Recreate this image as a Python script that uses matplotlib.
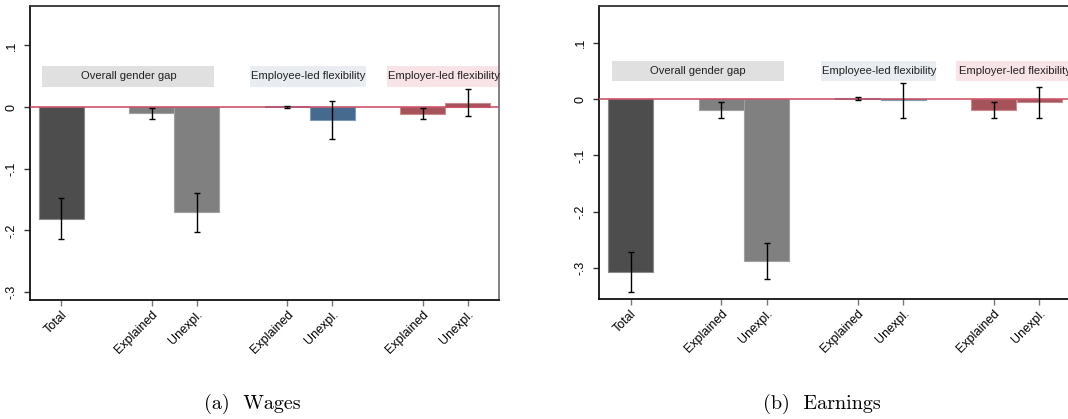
import matplotlib
matplotlib.use("Agg")
import matplotlib.pyplot as plt
from matplotlib.patches import Rectangle

# Oaxaca-style decomposition of the gender gap
positions = [1, 3, 4, 6, 7, 9, 10]
tick_labels = ["Total", "Explained", "Unexpl.", "Explained", "Unexpl.", "Explained", "Unexpl."]

wage_est = [-0.181, -0.010, -0.171, 0.001, -0.021, -0.011, 0.006]
wage_lo = [-0.214, -0.019, -0.202, -0.001, -0.052, -0.019, -0.015]
wage_hi = [-0.148, -0.001, -0.140, 0.002, 0.010, -0.002, 0.029]

earn_est = [-0.307, -0.020, -0.287, 0.002, -0.002, -0.020, -0.006]
earn_lo = [-0.342, -0.034, -0.319, -0.002, -0.034, -0.034, -0.034]
earn_hi = [-0.272, -0.005, -0.256, 0.004, 0.028, -0.006, 0.021]

group_titles = ["Overall gender gap", "Employee-led flexibility", "Employer-led flexibility"]
panel_captions = ["(a)  Wages", "(b)  Earnings"]

y_ticks = [0.1, 0.0, -0.1, -0.2, -0.3]
y_tick_labels = [".1", "0", "-.1", "-.2", "-.3"]

bar_colors = ["#4d4d4d", "#808080", "#808080", "#46698e", "#46698e", "#a5525a", "#a5525a"]
edge_colors = ["#8a8a8a", "#a0a0a0", "#a0a0a0", "#7d9bb8", "#7d9bb8", "#c98a90", "#c98a90"]
box_colors = ["#e0e0e0", "#e9edf1", "#f8e3e7"]

plt.rcParams["font.family"] = ["Liberation Sans", "DejaVu Sans"]

fig = plt.figure(figsize=(10.68, 4.19), dpi=100)

panels = [
    dict(rect=[0.0281, 0.284, 0.4391, 0.7017], est=wage_est, lo=wage_lo, hi=wage_hi,
         ylim=(-0.313, 0.164), boxes=[(0.58, 4.38), (5.18, 7.75), (8.21, 10.75)],
         cap_x=0.2365),
    dict(rect=[0.5611, 0.2857, 0.4414, 0.700], est=earn_est, lo=earn_lo, hi=earn_hi,
         ylim=(-0.355, 0.165), boxes=[(0.60, 4.37), (5.19, 7.72), (8.17, 11.0)],
         cap_x=0.770),
]

for i, p in enumerate(panels):
    ax = fig.add_axes(p["rect"])
    ax.set_xlim(0.31, 10.69)
    ax.set_ylim(*p["ylim"])

    ax.bar(positions, p["est"], width=0.99, color=bar_colors,
           edgecolor=edge_colors, linewidth=0.8, zorder=2)
    err_lo = [e - l for e, l in zip(p["est"], p["lo"])]
    err_hi = [h - e for e, h in zip(p["est"], p["hi"])]
    ax.errorbar(positions, p["est"], yerr=[err_lo, err_hi], fmt="none",
                ecolor="black", elinewidth=1.0, capsize=2.3, capthick=1.0, zorder=4)

    ax.axhline(0, color="#c8485f", linewidth=1.1, zorder=3)

    # group header boxes
    for (x0, x1), title, bc in zip(p["boxes"], group_titles, box_colors):
        ax.add_patch(Rectangle((x0, 0.0325), x1 - x0, 0.0345, facecolor=bc,
                               edgecolor="none", zorder=1))
    centers = [2.49, 6.47, 9.47]
    for cx, title in zip(centers, group_titles):
        ax.text(cx, 0.0497, title, ha="center", va="center", fontsize=8.1,
                color="#222222", zorder=5)

    ax.set_xticks(positions)
    ax.set_xticklabels(tick_labels, rotation=45, ha="right", va="top",
                       rotation_mode="anchor", fontsize=9)
    ax.set_yticks(y_ticks)
    ax.set_yticklabels(y_tick_labels, rotation=90, va="center", fontsize=9)

    ax.tick_params(axis="x", length=4, width=1.0, color="#777777", pad=2)
    ax.tick_params(axis="y", length=4, width=1.0, color="#333333", pad=5)

    ax.spines["left"].set_color("#111111")
    ax.spines["bottom"].set_color("#111111")
    ax.spines["top"].set_color("#333333")
    ax.spines["right"].set_color("#777777")
    for s in ax.spines.values():
        s.set_linewidth(1.3)

    fig.text(p["cap_x"], 0.036, panel_captions[i], ha="center", va="center",
             fontsize=14.5, family="cmr10")

fig.savefig("out.png", dpi=100)
